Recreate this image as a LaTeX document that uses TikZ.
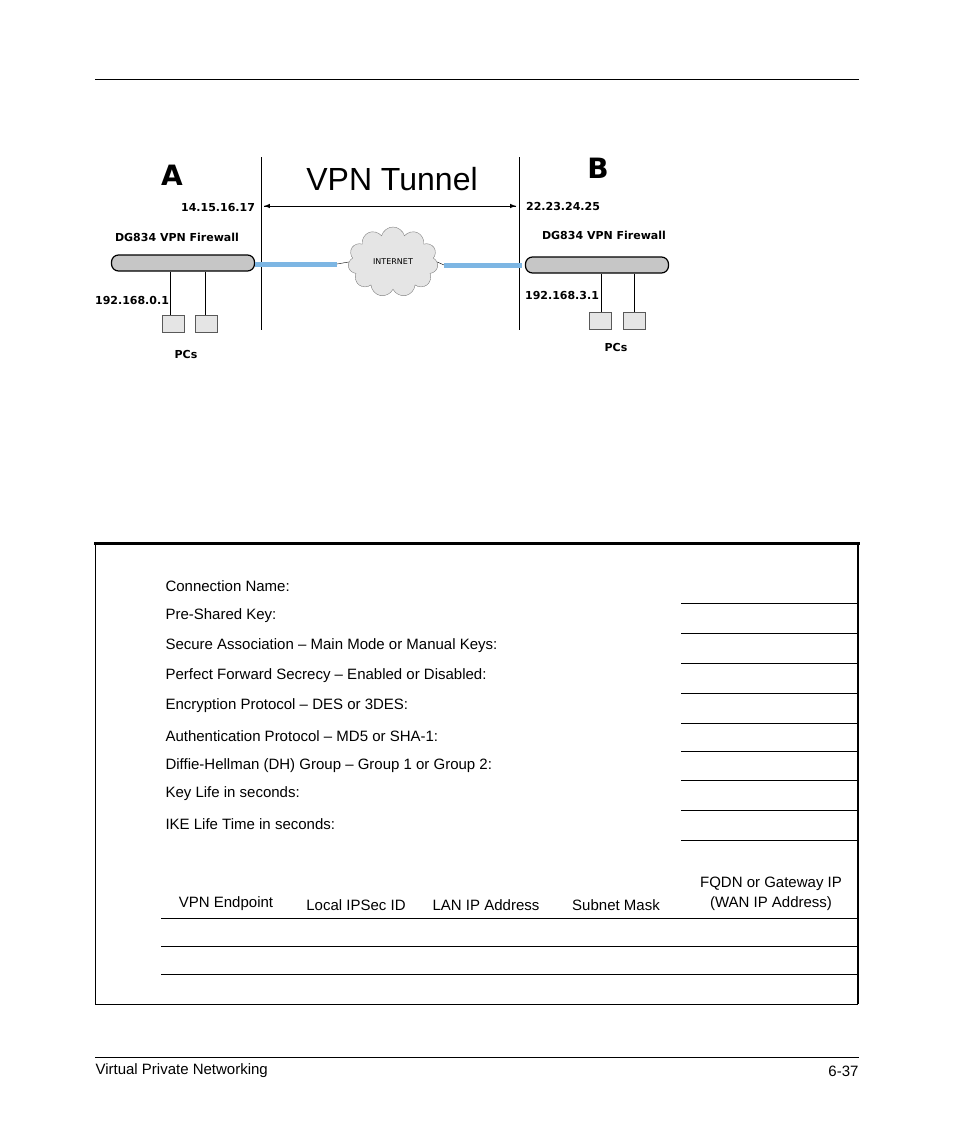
\documentclass[tikz,border=0pt]{standalone}
\usepackage{fontspec}
\setmainfont{Liberation Sans}
\usetikzlibrary{shapes.symbols}
\newfontfamily\labfont{DejaVu Sans}
\definecolor{wire}{RGB}{70,150,215}
\tikzset{
  field/.style={anchor=west,font=\fontsize{15}{17}\selectfont},
  colhead/.style={font=\fontsize{15}{20}\selectfont,align=center,anchor=south},
  lab/.style={font=\labfont\bfseries\fontsize{11}{13}\selectfont},
  router/.style={draw=black,line width=1.2pt,fill=gray!45,rounded corners=7pt,minimum width=143pt,minimum height=16pt,inner sep=0pt},
  pc/.style={draw=gray!70!black,fill=gray!20,minimum width=22pt,minimum height=17pt,inner sep=0pt},
}
\begin{document}
\begin{tikzpicture}[x=1pt,y=-1pt]
\useasboundingbox (0,0) rectangle (954,1145);

%page rules
\draw (95,79) -- (859,79);
\draw (95,1057) -- (859,1057);
\node[field] (foot) at (92,1071) {Virtual Private Networking};
\node[field,anchor=east] (page) at (862,1071) {6-37};

%diagram
\draw (261,157) -- (261,330);
\draw (519,157) -- (519,330);
\node[font=\fontsize{32}{34}\selectfont] (tunnel) at (392,179) {VPN Tunnel};
\node[font=\labfont\bfseries\fontsize{28}{30}\selectfont] (siteA) at (172,175) {A};
\node[font=\labfont\bfseries\fontsize{28}{30}\selectfont] (siteB) at (598,168) {B};
\coordinate (tl) at (264,206);
\coordinate (tr) at (516,206);
\draw[-latex,line width=1pt] (tl) -- (tr);
\draw[-latex,line width=1pt] (tr) -- (tl);
\node[lab] (wanA) at (218,208) {14.15.16.17};
\node[lab] (wanB) at (563,206) {22.23.24.25};
\node[lab] (nameA) at (177,237) {DG834 VPN Firewall};
\node[lab] (nameB) at (604,235) {DG834 VPN Firewall};

\node[router] (rA) at (183,263) {};
\node[router] (rB) at (597,265) {};
\draw[line width=5pt,wire!70] (255,264) -- (337,264);
\draw[line width=5pt,wire!70] (444,265) -- (522,265);
\node[cloud,cloud puffs=11,draw=gray,fill=gray!20,minimum width=90pt,minimum height=70pt] (net) at (393,262) {};
\node[font=\labfont\fontsize{8}{9}\selectfont] at (net) {INTERNET};
\draw (337,264) -- (net.west);
\draw (net.east) -- (444,265);

\node[lab] (lanA) at (132,300) {192.168.0.1};
\node[lab] (lanB) at (562,295) {192.168.3.1};
\node[pc] (pcA1) at (173,324) {};
\node[pc] (pcA2) at (206,324) {};
\node[pc] (pcB1) at (600,321) {};
\node[pc] (pcB2) at (634,321) {};
\draw (rA.south) ++(-13,0) coordinate (a1) -- (a1 |- pcA1.north);
\draw (rA.south) ++(22,0) coordinate (a2) -- (a2 |- pcA2.north);
\draw (rB.south) ++(4,0) coordinate (b1) -- (b1 |- pcB1.north);
\draw (rB.south) ++(37,0) coordinate (b2) -- (b2 |- pcB2.north);
\node[lab] (pcsA) at (186,354) {PCs};
\node[lab] (pcsB) at (616,347) {PCs};

%worksheet box
\draw[line width=3pt] (94,543) -- (860,543);
\draw[line width=2.5pt] (858,543) -- (858,1004);
\draw (95,543) -- (95,1004) -- (858,1004);
\foreach \t [count=\i] in {Connection Name:,Pre-Shared Key:,Secure Association -- Main Mode or Manual Keys:,Perfect Forward Secrecy -- Enabled or Disabled:,Encryption Protocol -- DES or 3DES:,Authentication Protocol -- MD5 or SHA-1:}
  \node[field] (f\i) at (162,556+30*\i) {\t};
\node[field] (f7) at (162,766) {Diffie-Hellman (DH) Group -- Group 1 or Group 2:};
\node[field] (f8) at (162,794) {Key Life in seconds:};
\node[field] (f9) at (162,824) {IKE Life Time in seconds:};
\foreach \y in {603,633,663,693,723,751,780,810,840}
  \draw (681,\y) -- (858,\y);

\foreach \t/\x in {VPN Endpoint/226,Local IPSec ID/356,LAN IP Address/486,Subnet Mask/616}
  \node[colhead] at (\x,914) {\t};
\node[colhead] (fqdn) at (771,914) {FQDN or Gateway IP\\(WAN IP Address)};
\foreach \y in {918,946,974}
  \draw (161,\y) -- (858,\y);
\end{tikzpicture}
\end{document}
